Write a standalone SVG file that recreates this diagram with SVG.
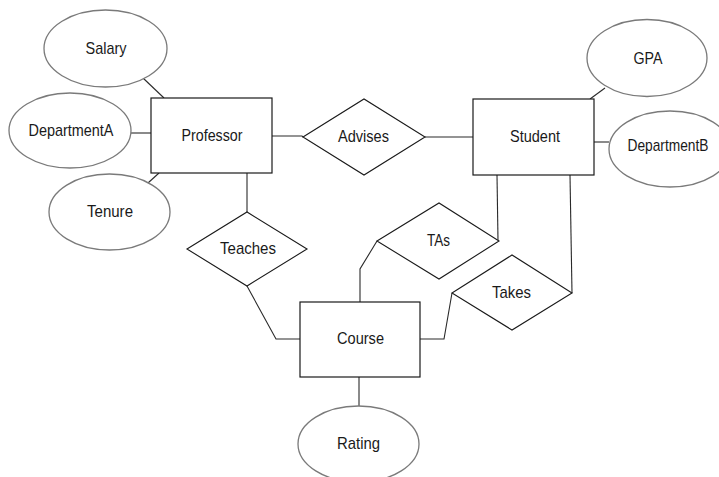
<svg xmlns="http://www.w3.org/2000/svg" width="719" height="477" viewBox="0 0 719 477">
  <style>
    .entity { fill: #ffffff; stroke: #1a1a1a; stroke-width: 1.2; }
    .rel { fill: #ffffff; stroke: #1a1a1a; stroke-width: 1.1; }
    .attr { fill: #ffffff; stroke: #7a7a7a; stroke-width: 1.3; }
    .link { fill: none; stroke: #2a2a2a; stroke-width: 1.1; }
    text { font-family: "Liberation Sans", Arial, sans-serif; font-size: 17px; fill: #1a1a1a; text-anchor: middle; }
  </style>
  <rect x="0" y="0" width="719" height="477" fill="#ffffff"/>

  <!-- connectors -->
  <g id="connectors">
    <line class="link" x1="143" y1="78" x2="164" y2="98"/>
    <line class="link" x1="131" y1="133" x2="151" y2="133"/>
    <line class="link" x1="148" y1="183" x2="159" y2="173"/>
    <polyline class="link" points="272,136 302,136 303,137"/>
    <line class="link" x1="425" y1="137" x2="473" y2="137"/>
    <line class="link" x1="247" y1="173" x2="247" y2="212"/>
    <polyline class="link" points="247,286 276,339 300,339"/>
    <line class="link" x1="359" y1="377" x2="359" y2="406"/>
    <polyline class="link" points="360,302 360,269 377,241"/>
    <line class="link" x1="497" y1="175" x2="498" y2="241"/>
    <polyline class="link" points="420,339 444,339 452,293"/>
    <line class="link" x1="570" y1="175" x2="572" y2="293"/>
    <line class="link" x1="605" y1="88" x2="590" y2="99"/>
    <line class="link" x1="594" y1="142" x2="609" y2="142"/>
  </g>

  <!-- attributes -->
  <g id="salary">
    <ellipse class="attr" cx="105.5" cy="48.5" rx="61.5" ry="38.5"/>
    <text x="106" y="54" textLength="41" lengthAdjust="spacingAndGlyphs">Salary</text>
  </g>
  <g id="departmentA">
    <ellipse class="attr" cx="70" cy="130.5" rx="61" ry="37.5"/>
    <text x="71" y="136" textLength="85" lengthAdjust="spacingAndGlyphs">DepartmentA</text>
  </g>
  <g id="tenure">
    <ellipse class="attr" cx="109.5" cy="212" rx="60.5" ry="38"/>
    <text x="110" y="217" textLength="46" lengthAdjust="spacingAndGlyphs">Tenure</text>
  </g>
  <g id="gpa">
    <ellipse class="attr" cx="647" cy="58" rx="60" ry="38.5"/>
    <text x="648" y="64" textLength="29" lengthAdjust="spacingAndGlyphs">GPA</text>
  </g>
  <g id="departmentB">
    <ellipse class="attr" cx="670" cy="149" rx="61" ry="38"/>
    <text x="668" y="151" textLength="81" lengthAdjust="spacingAndGlyphs">DepartmentB</text>
  </g>
  <g id="rating">
    <ellipse class="attr" cx="358.5" cy="444" rx="60.5" ry="38"/>
    <text x="358.5" y="449" textLength="43" lengthAdjust="spacingAndGlyphs">Rating</text>
  </g>

  <!-- entities -->
  <g id="professor">
    <rect class="entity" x="151" y="98" width="121" height="75"/>
    <text x="212" y="141" textLength="61" lengthAdjust="spacingAndGlyphs">Professor</text>
  </g>
  <g id="student">
    <rect class="entity" x="473" y="99" width="121" height="76"/>
    <text x="535" y="142" textLength="50" lengthAdjust="spacingAndGlyphs">Student</text>
  </g>
  <g id="course">
    <rect class="entity" x="300" y="302" width="120" height="75"/>
    <text x="360.5" y="344" textLength="47" lengthAdjust="spacingAndGlyphs">Course</text>
  </g>

  <!-- relationships -->
  <g id="advises">
    <polygon class="rel" points="303,137 364,99 425,137 364,175"/>
    <text x="363.5" y="142" textLength="51" lengthAdjust="spacingAndGlyphs">Advises</text>
  </g>
  <g id="teaches">
    <polygon class="rel" points="187,249 247,212 307,249 247,286"/>
    <text x="248" y="254" textLength="56" lengthAdjust="spacingAndGlyphs">Teaches</text>
  </g>
  <g id="tas">
    <polygon class="rel" points="377,241 439,203 499,241 439,279"/>
    <text x="438.5" y="246" textLength="23" lengthAdjust="spacingAndGlyphs">TAs</text>
  </g>
  <g id="takes">
    <polygon class="rel" points="452,293 512,255 572,293 512,330"/>
    <text x="511.5" y="298" textLength="39" lengthAdjust="spacingAndGlyphs">Takes</text>
  </g>
</svg>
